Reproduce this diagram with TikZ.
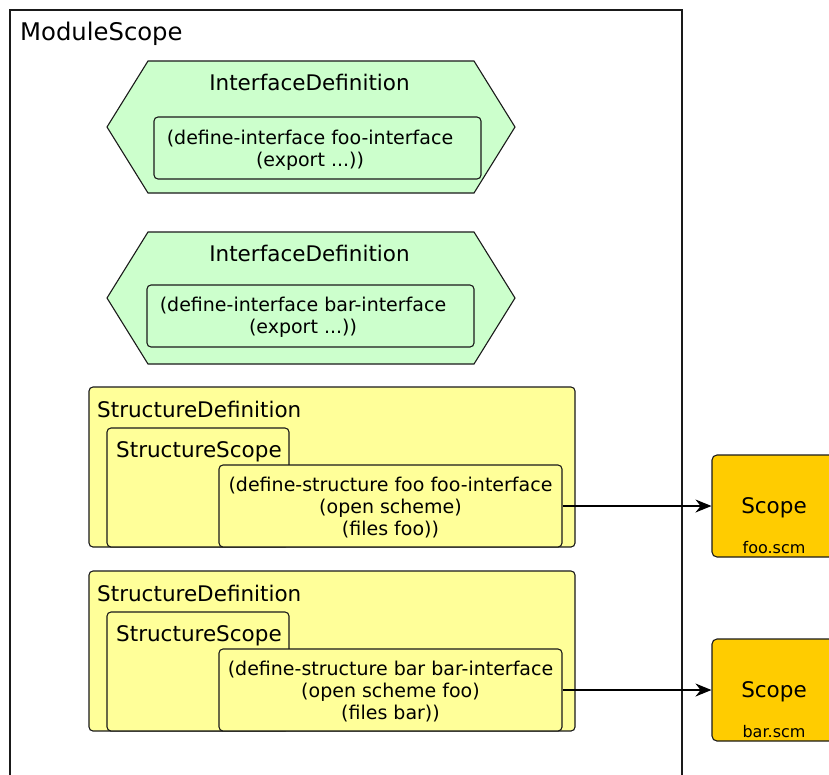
\documentclass[tikz,border=0pt]{standalone}
\usepackage{fontspec}
\setmainfont{DejaVu Sans}
\usetikzlibrary{arrows.meta}
\definecolor{hexgreen}{HTML}{CCFFCC}
\definecolor{structyellow}{HTML}{FFFF99}
\definecolor{scopeorange}{HTML}{FFCC00}
\definecolor{edgecol}{HTML}{1A1A1A}
\tikzset{
  border/.style={draw=edgecol, line width=1.1pt},
  hexshape/.style={border, fill=hexgreen},
  boxnode/.style={border, rounded corners=4pt, inner sep=0pt, minimum width=#1},
  codegreen/.style={boxnode=327pt, fill=hexgreen, minimum height=62pt},
  defbox/.style={border, rounded corners=4pt, fill=structyellow},
  scopebox/.style={boxnode=124pt, fill=scopeorange, minimum height=102pt, rounded corners=5pt},
  bigtitle/.style={inner sep=0pt, font=\fontsize{24.3}{28}\selectfont},
  title/.style={inner sep=0pt, font=\fontsize{21.5}{26}\selectfont},
  codetext/.style={inner sep=0pt, align=center, font=\fontsize{19}{22}\selectfont},
  smalltext/.style={inner sep=0pt, font=\fontsize{16}{19}\selectfont},
  link/.style={draw=black, line width=1.1pt, -{Stealth[length=16pt,width=13pt]}}
}
\begin{document}
\begin{tikzpicture}[x=1pt,y=-1pt]
\useasboundingbox (0,0) rectangle (829,774);
\begin{scope}
\clip (0,0) rectangle (829,774);
% Module scope
\draw[border, fill=white] (10,10) rectangle (682,800);
\node[bigtitle, anchor=base west] (mstitle) at (20,40.5) {ModuleScope};

% Interface definition 1
\draw[hexshape] (107,127) -- (148,61) -- (474,61) -- (515,127) -- (474,193) -- (148,193) -- cycle;
\node[title, anchor=base] (ift1) at (309.5,90) {InterfaceDefinition};
\node[codegreen] (if1) at (317.5,148) {};
\node[codetext, anchor=base] (if1t) at (310,166) {(define-interface foo-interface\\(export ...))};

% Interface definition 2
\draw[hexshape] (107,298) -- (148,232) -- (474,232) -- (515,298) -- (474,364) -- (148,364) -- cycle;
\node[title, anchor=base] (ift2) at (309.5,261) {InterfaceDefinition};
\node[codegreen] (if2) at (310.5,316) {};
\node[codetext, anchor=base] (if2t) at (303,333) {(define-interface bar-interface\\(export ...))};

% Structure definition 1
\draw[defbox] (89,387) rectangle (575,547);
\node[title, anchor=base west] (sdt1) at (97,417) {StructureDefinition};
\draw[defbox] (107,428) rectangle (289,547);
\node[title, anchor=base west] (sst1) at (116,457) {StructureScope};
\node[boxnode=343pt, fill=structyellow, minimum height=82pt] (sc1) at (390.5,506) {};
\node[codetext, anchor=base] (sc1t) at (390.5,535) {(define-structure foo foo-interface\\(open scheme)\\(files foo))};

% Structure definition 2
\draw[defbox] (89,571) rectangle (575,731);
\node[title, anchor=base west] (sdt2) at (97,601) {StructureDefinition};
\draw[defbox] (107,612) rectangle (289,731);
\node[title, anchor=base west] (sst2) at (116,641) {StructureScope};
\node[boxnode=343pt, fill=structyellow, minimum height=82pt] (sc2) at (390.5,690) {};
\node[codetext, anchor=base] (sc2t) at (390.5,719) {(define-structure bar bar-interface\\(open scheme foo)\\(files bar))};

% Scopes
\node[scopebox] (scope1) at (774,506) {};
\node[title, anchor=base] (scope1t) at (774,513) {Scope};
\node[smalltext, anchor=base] (scope1f) at (774,553) {foo.scm};
\node[scopebox] (scope2) at (774,690) {};
\node[title, anchor=base] (scope2t) at (774,697) {Scope};
\node[smalltext, anchor=base] (scope2f) at (774,737) {bar.scm};

% Connectors
\draw[link] (sc1.east) -- (scope1.west);
\draw[link] (sc2.east) -- (scope2.west);
\end{scope}
\end{tikzpicture}
\end{document}
